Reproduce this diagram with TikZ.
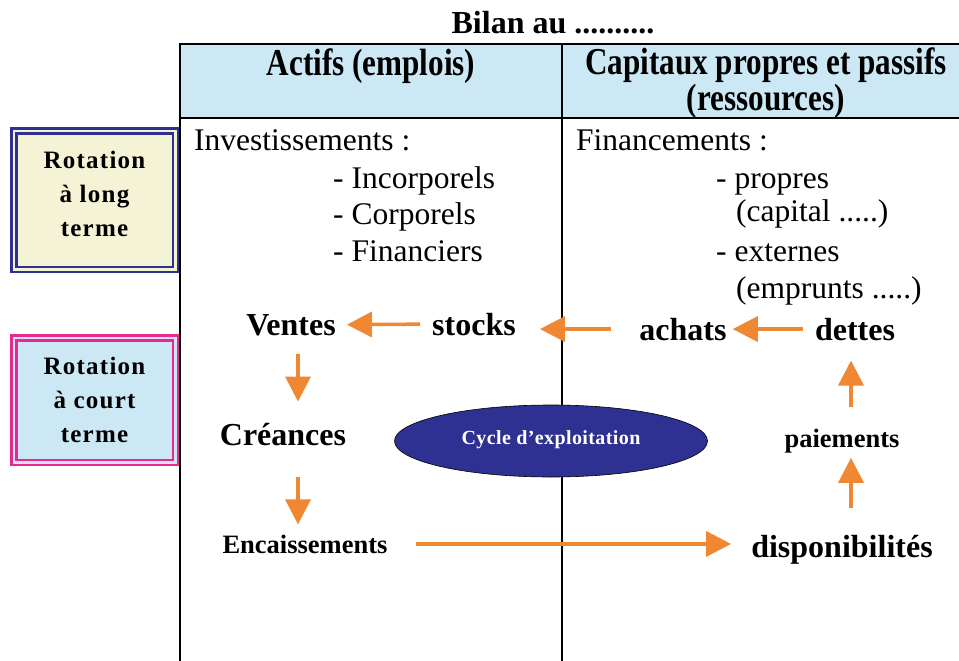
\documentclass[tikz,border=0pt]{standalone}
\usepackage{fontspec}
\setmainfont{Liberation Serif}
\newfontfamily\headfont[FakeStretch=0.82]{Liberation Serif}
\newfontfamily\rotfont[LetterSpace=5]{Liberation Serif}
\newfontfamily\cyclefont[LetterSpace=2]{Liberation Serif}
\usetikzlibrary{arrows.meta, positioning, shapes.geometric}
\definecolor{hdrblue}{HTML}{CCE8F4}
\definecolor{boxcream}{HTML}{F5F3D6}
\definecolor{navy}{HTML}{2E3192}
\definecolor{rose}{HTML}{E8298F}
\definecolor{flowor}{HTML}{F08733}
\tikzset{
  word/.style={inner sep=0pt, anchor=base, font=\fontsize{32}{36}\selectfont\bfseries},
  smallword/.style={word, font=\fontsize{26.5}{30}\selectfont\bfseries},
  item/.style={inner sep=0pt, anchor=base west, font=\fontsize{31.5}{36}\selectfont},
  head/.style={inner sep=0pt, align=center, font=\headfont\fontsize{38}{34}\selectfont\bfseries},
  flow/.style={draw=flowor, line width=3.5pt, -{Triangle[width=25pt,length=25pt]}},
  rotbox/.style={line width=2.5pt, double distance=2.5pt, minimum width=161.5pt,
    align=center, font=\rotfont\fontsize{25}{34}\selectfont\bfseries}
}
\begin{document}
\begin{tikzpicture}[x=1pt, y=-1pt]
  \useasboundingbox (0,0) rectangle (959,661);

  % header band
  \fill[hdrblue] (180,44) rectangle (959,118);

  % table lines
  \draw[line width=1.8pt] (959,44) -- (180,44) -- (180,661);
  \draw[line width=1.8pt] (180,118) -- (959,118);
  \draw[line width=1.8pt] (562,44) -- (562,661);

  % title and column heads
  \node[inner sep=0pt, anchor=base, font=\fontsize{32}{36}\selectfont\bfseries] (titre) at (553,34) {Bilan au ..........};
  \node[head] (actifs) at (371,66) {Actifs (emplois)};
  \node[head] (passifs) at (766,83) {Capitaux propres et passifs\\(ressources)};

  % rotation boxes
  \node[rotbox, minimum height=138.5pt, draw=navy, fill=boxcream, double=boxcream] (longterme) at (94.5,200) {Rotation\\à long\\terme\rule[-12pt]{0pt}{12pt}};
  \node[rotbox, minimum height=124.5pt, draw=rose, fill=hdrblue, double=hdrblue] (courtterme) at (94.5,400) {Rotation\\à court\\terme};

  % actifs
  \node[item] (invest) at (194,150) {Investissements :};
  \foreach \t/\y [count=\i] in {Incorporels/188, Corporels/224, Financiers/261}{
    \node[item] (inv\i) at (333,\y) {- \t};
  }

  % passifs
  \node[item] (finan) at (576,150) {Financements :};
  \node[item] (propres) at (716,188) {- propres};
  \node[item] (capital) at (736,221) {(capital .....)};
  \node[item] (externes) at (716,261) {- externes};
  \node[item] (emprunts) at (736,298) {(emprunts .....)};

  % cycle words
  \node[word] (ventes) at (291,335) {Ventes};
  \node[word] (stocks) at (474,335) {stocks};
  \node[word] (achats) at (683,340) {achats};
  \node[word] (dettes) at (855,340) {dettes};
  \node[word] (creances) at (283,445) {Créances};
  \node[smallword] (encaiss) at (305,553) {Encaissements};
  \node[smallword] (paiem) at (842,447) {paiements};
  \node[word] (dispo) at (842,557) {disponibilités};

  % ellipse
  \node[ellipse, draw=black, line width=0.6pt, fill=navy, minimum width=313pt, minimum height=72pt,
    inner sep=0pt, text=white, font=\cyclefont\fontsize{20}{22}\selectfont\bfseries] (cycle) at (551,441) {\raisebox{6pt}{Cycle d’exploitation}};

  % arrows
  \draw[flow, shorten <=12pt, shorten >=11pt] (stocks.west) -- (ventes.east);
  \draw[flow, shorten <=28pt, shorten >=24pt] (achats.west) -- (achats.west -| stocks.east);
  \draw[flow, shorten <=12pt, shorten >=6pt] (dettes.west) -- (dettes.west -| achats.east);
  \draw[flow, shorten <=18pt, shorten >=21pt] ([xshift=7pt]ventes.south) -- ([xshift=7pt]ventes.south |- creances.north);
  \draw[flow, shorten <=31pt, shorten >=10pt] ([xshift=15pt]creances.south) -- ([xshift=15pt]creances.south |- encaiss.north);
  \draw[flow, shorten <=28pt, shorten >=20pt] (encaiss.east) -- (encaiss.east -| dispo.west);
  \draw[flow, shorten <=27pt, shorten >=5pt] ([xshift=9pt]paiem.south |- dispo.north) -- ([xshift=9pt]paiem.south);
  \draw[flow, shorten <=21pt, shorten >=20pt] ([xshift=9pt]paiem.north) -- ([xshift=9pt]paiem.north |- dettes.south);
\end{tikzpicture}
\end{document}
